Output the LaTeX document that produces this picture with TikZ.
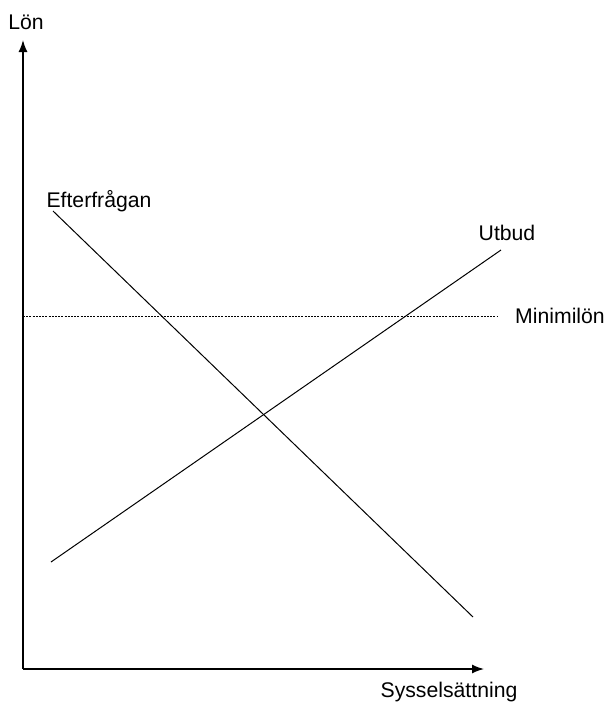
\documentclass[tikz,border=0pt]{standalone}
\usepackage{fontspec}
\setmainfont{Liberation Sans}
\usetikzlibrary{arrows.meta}

\begin{document}
\begin{tikzpicture}[x=0.5pt, y=-0.5pt,
    axis/.style={line width=0.7pt, -{Latex[length=6pt,width=4.5pt]}},
    curve/.style={line width=0.5pt},
    minline/.style={line width=0.5pt, dash pattern=on 1pt off 0.6pt},
    lbl/.style={font=\fontsize{10.6}{12}\selectfont, inner sep=0pt}]
        \useasboundingbox (0,0) rectangle (607,708);

        \coordinate (o) at (23,669);
        \coordinate (ytop) at (23,40);
        \coordinate (xend) at (484,669);

        \coordinate (d0) at (53,211);
        \coordinate (d1) at (473,617);
        \coordinate (s0) at (51,562);
        \coordinate (s1) at (501,250);
        \coordinate (m0) at (23,316);
        \coordinate (m1) at (498,316);

        \node[lbl] (lon) at (26,22) {Lön};
        \node[lbl] (syss) at (449,692) {Sysselsättning};
        \node[lbl] (eft) at (99,201) {Efterfrågan};
        \node[lbl] (utb) at (507,233) {Utbud};
        \node[lbl] (minl) at (560,316) {Minimilön};

        \draw[axis] (o) -- (ytop);
        \draw[axis] (o) -- (xend);
        \draw[curve] (d0) -- (d1);
        \draw[curve] (s0) -- (s1);
        \draw[minline] (m0) -- (m1);
\end{tikzpicture}
\end{document}
